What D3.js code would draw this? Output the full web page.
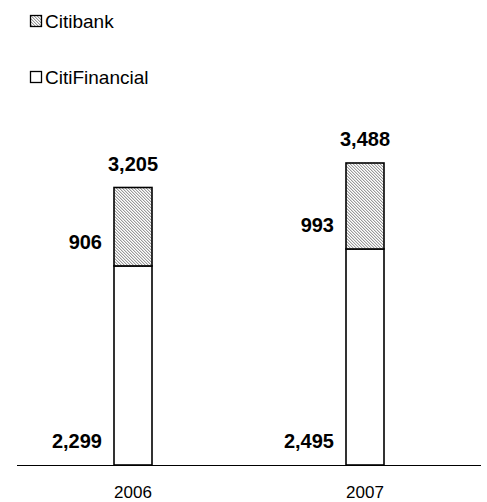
<!DOCTYPE html>
<html><head><meta charset="utf-8">
<script src="https://cdn.jsdelivr.net/npm/d3@7"></script>
<style>body{margin:0;background:#fff;}svg{display:block;font-family:"Liberation Sans",Arial,sans-serif;}</style>
</head><body>
<svg id="c" width="487" height="502"></svg>
<script>
const categories = ["2006", "2007"];
const citiFinancial = [2299, 2495];
const citibank = [906, 993];
const totals = [3205, 3488];
const totalLabels = ["3,205", "3,488"];
const financialLabels = ["2,299", "2,495"];
const bankLabels = ["906", "993"];
const legendItems = ["Citibank", "CitiFinancial"];

const svg = d3.select("#c");
const defs = svg.append("defs");
const pat = defs.append("pattern").attr("id","hatch").attr("patternUnits","userSpaceOnUse")
  .attr("width",3).attr("height",3);
pat.append("rect").attr("width",3).attr("height",3).attr("fill","#fff");
[0,1,2].forEach(k=>pat.append("rect").attr("x",k).attr("y",k).attr("width",1).attr("height",1).attr("fill","#9a9a9a"));
[0,1,2].forEach(k=>pat.append("rect").attr("x",(k+1)%3).attr("y",k).attr("width",1).attr("height",1).attr("fill","#dcdcdc"));

const x = d3.scaleBand().domain(categories).range([17, 481]).padding(0);
const barW = 38;
const y = d3.scaleLinear().domain([0, 3488]).range([465, 163]);

const g = svg.append("g");
categories.forEach((c,i)=>{
  const cx = Math.round(x(c) + x.bandwidth()/2);
  const bx = cx - barW/2;
  g.append("rect").attr("x",bx).attr("y",y(citiFinancial[i])).attr("width",barW)
    .attr("height",y(0)-y(citiFinancial[i])).attr("fill","#fff").attr("stroke","#000").attr("stroke-width",1.6);
  g.append("rect").attr("x",bx).attr("y",y(citiFinancial[i]+citibank[i])).attr("width",barW)
    .attr("height",y(citiFinancial[i])-y(citiFinancial[i]+citibank[i])).attr("fill","url(#hatch)").attr("stroke","#000").attr("stroke-width",1.6);
  const lab = (t,xx,yy,anchor)=>g.append("text").attr("x",xx).attr("y",yy).attr("text-anchor",anchor)
    .attr("dominant-baseline","central").attr("font-size",20).attr("font-weight","bold").attr("fill","#000").text(t);
  lab(financialLabels[i], bx-12, y(0)-24, "end");
  lab(bankLabels[i], bx-12, y(citiFinancial[i])-24, "end");
  lab(totalLabels[i], cx, y(totals[i])-24, "middle");
  g.append("text").attr("x",cx).attr("y",498).attr("text-anchor","middle").attr("font-size",17).attr("fill","#000").text(c);
});
svg.append("line").attr("x1",17).attr("x2",481).attr("y1",465.5).attr("y2",465.5).attr("stroke","#000").attr("stroke-width",1.2);

const lg = svg.append("g");
legendItems.forEach((t,i)=>{
  const yy = 21 + i*56;
  lg.append("rect").attr("x",30.5).attr("y",yy-5.5).attr("width",11).attr("height",11)
    .attr("fill", i===0 ? "url(#hatch)" : "#fff").attr("stroke","#000").attr("stroke-width",1.3);
  lg.append("text").attr("x",45).attr("y",yy).attr("dominant-baseline","central").attr("font-size",19).attr("fill","#000").text(t);
});
</script>
</body></html>
